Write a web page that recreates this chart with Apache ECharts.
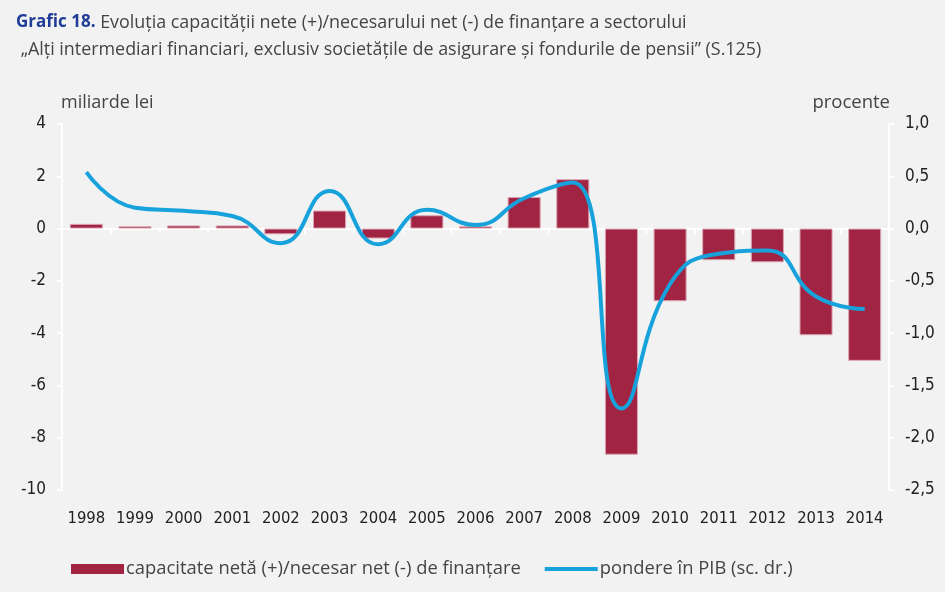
<!DOCTYPE html>
<html>
<head>
<meta charset="utf-8">
<script src="https://cdn.jsdelivr.net/npm/echarts@6/dist/echarts.min.js"></script>
<style>
  html, body { margin: 0; padding: 0; background: #f2f2f2; }
  #chart { width: 945px; height: 592px; }
</style>
</head>
<body>
<div id="chart"></div>
<script>
// ani
const years = ['1998', '1999', '2000', '2001', '2002', '2003', '2004', '2005', '2006',
  '2007', '2008', '2009', '2010', '2011', '2012', '2013', '2014']
// capacitate neta (+)/necesar net (-), miliarde lei
const capacitate = [0.18, 0.09, 0.12, 0.12, -0.22, 0.69, -0.38, 0.51, 0.09,
  1.21, 1.89, -8.65, -2.78, -1.21, -1.29, -4.08, -5.06]
// pondere in PIB, procente (sc. dr.)
const pondere = [0.54, 0.2, 0.17, 0.12, -0.14, 0.36, -0.15, 0.18, 0.035,
  0.29, 0.44, -1.72, -0.53, -0.24, -0.21, -0.65, -0.77]

const numFont = '"DejaVu Sans Condensed", "Liberation Sans Narrow", sans-serif'
const textFont = '"Open Sans", "Noto Sans", sans-serif'

const chart = echarts.init(document.getElementById('chart'))

// axe comune
const axisWhite = {
  axisLine: { show: true, lineStyle: { color: '#ffffff', width: 2 } },
  axisTick: { show: true, length: 5, lineStyle: { color: '#ffffff', width: 2 } },
  splitLine: { show: false }
}

const option = {
  backgroundColor: '#f2f2f2',
  animation: false,
  title: {
    left: 11,
    top: 4,
    text: '{b|Grafic 18.}{n| Evoluția capacității nete (+)/necesarului net (-) de finanțare a sectorului}\n{n| „Alți intermediari financiari, exclusiv societățile de asigurare și fondurile de pensii” (S.125)}',
    textStyle: {
      fontWeight: 'normal',
      rich: {
        b: { fontFamily: textFont, fontWeight: 'bold', fontSize: 17, color: '#1f3c96', lineHeight: 27 },
        n: { fontFamily: textFont, fontWeight: 'normal', fontSize: 17.9, color: '#444444', lineHeight: 27 }
      }
    }
  },
  legend: {
    left: 66,
    top: 555,
    itemGap: 24,
    itemWidth: 53,
    itemHeight: 10,
    textStyle: { fontFamily: textFont, fontSize: 18.4, color: '#444444', padding: [0, 0, 0, -3] },
    data: [
      { name: 'capacitate netă (+)/necesar net (-) de finanțare', icon: 'rect', itemStyle: { borderWidth: 0 } },
      { name: 'pondere în PIB (sc. dr.)', icon: 'path://M0,0H53V4H0Z' }
    ]
  },
  grid: {
    left: 62,
    right: 56,
    top: 124,
    bottom: 102
  },
  xAxis: [
    {
      type: 'category',
      data: years,
      ...axisWhite,
      axisLine: { show: true, onZero: true, lineStyle: { color: '#ffffff', width: 2 } },
      axisLabel: { show: false }
    },
    {
      type: 'category',
      data: years,
      position: 'bottom',
      axisLine: { show: false },
      axisTick: { show: false },
      axisLabel: { fontFamily: numFont, fontSize: 16.5, color: '#222222', margin: 20, interval: 0 }
    }
  ],
  yAxis: [
    {
      type: 'value',
      min: -10,
      max: 4,
      interval: 2,
      ...axisWhite,
      name: 'miliarde lei',
      nameLocation: 'end',
      nameGap: 12,
      nameTextStyle: { fontFamily: textFont, fontSize: 18, color: '#444444', align: 'left', padding: [0, 0, 0, -1] },
      axisLabel: { fontFamily: numFont, fontSize: 17, color: '#222222', margin: 16 }
    },
    {
      type: 'value',
      min: -2.5,
      max: 1,
      interval: 0.5,
      position: 'right',
      ...axisWhite,
      name: 'procente',
      nameLocation: 'end',
      nameGap: 12,
      nameTextStyle: { fontFamily: textFont, fontSize: 18.5, color: '#444444', align: 'right', padding: [0, -1, 0, 0] },
      axisLabel: {
        fontFamily: numFont,
        fontSize: 17,
        color: '#222222',
        margin: 16,
        formatter: v => v.toFixed(1).replace('.', ',')
      }
    }
  ],
  series: [
    {
      name: 'capacitate netă (+)/necesar net (-) de finanțare',
      type: 'bar',
      xAxisIndex: 0,
      yAxisIndex: 0,
      data: capacitate,
      barCategoryGap: '32%',
      itemStyle: { color: '#a12443', borderColor: '#dba6b4', borderWidth: 1 }
    },
    {
      name: 'pondere în PIB (sc. dr.)',
      type: 'line',
      xAxisIndex: 0,
      yAxisIndex: 1,
      data: pondere,
      smooth: 0.5,
      symbol: 'none',
      lineStyle: { color: '#18a2dc', width: 4 },
      itemStyle: { color: '#18a2dc' }
    }
  ]
}

chart.setOption(option)
</script>
</body>
</html>
